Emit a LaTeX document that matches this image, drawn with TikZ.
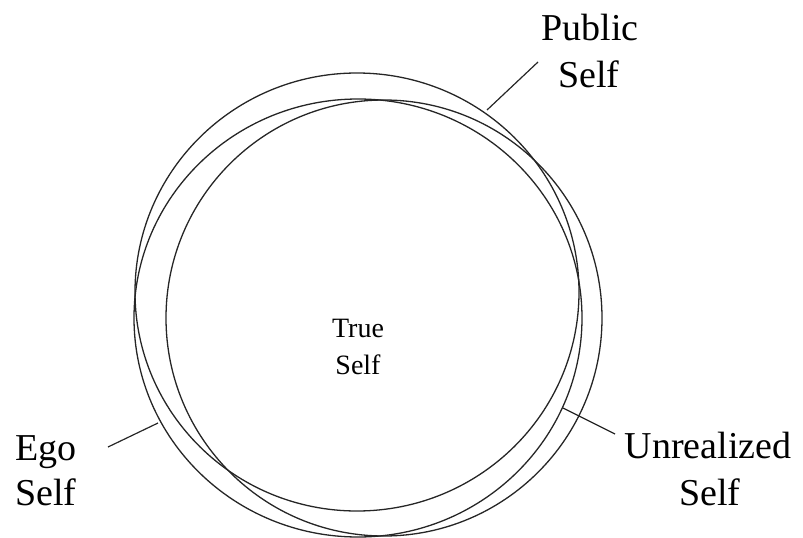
\documentclass[tikz,border=0pt]{standalone}
\usepackage{fontspec}
\setmainfont{Liberation Serif}
\begin{document}
\begin{tikzpicture}[x=1pt,y=-1pt,
  ring/.style={draw=black!85,line width=1.3pt},
  lead/.style={draw=black!85,line width=1.2pt},
  big/.style={inner sep=0pt,font=\fontsize{38}{47}\selectfont},
  small/.style={inner sep=0pt,font=\fontsize{28}{36}\selectfont}]
\useasboundingbox (0,0) rectangle (803,538);
% the three selves
\draw[ring] (357,292) ellipse [x radius=222,y radius=219];
\draw[ring] (384,318) ellipse [x radius=218,y radius=218];
\draw[ring] (358,318) ellipse [x radius=224,y radius=219];
% labels
\node[big,anchor=base] (pub1) at (590,40) {Public};
\node[big,anchor=base] (pub2) at (589,87) {Self};
\node[big,anchor=base west] (ego1) at (15,460) {Ego};
\node[big,anchor=base west] (ego2) at (15,505) {Self};
\node[big,anchor=base] (unr1) at (708,458) {Unrealized};
\node[big,anchor=base] (unr2) at (710,505) {Self};
\node[small,anchor=base] (true1) at (358,337) {True};
\node[small,anchor=base] (true2) at (358,374) {Self};
% leader lines
\coordinate (pubA) at (487,110);
\coordinate (pubB) at (538,62);
\coordinate (egoA) at (158,423);
\coordinate (egoB) at (108,447);
\coordinate (unrA) at (563,408);
\coordinate (unrB) at (615,434);
\draw[lead] (pubA) -- (pubB);
\draw[lead] (egoA) -- (egoB);
\draw[lead] (unrA) -- (unrB);
\end{tikzpicture}
\end{document}
